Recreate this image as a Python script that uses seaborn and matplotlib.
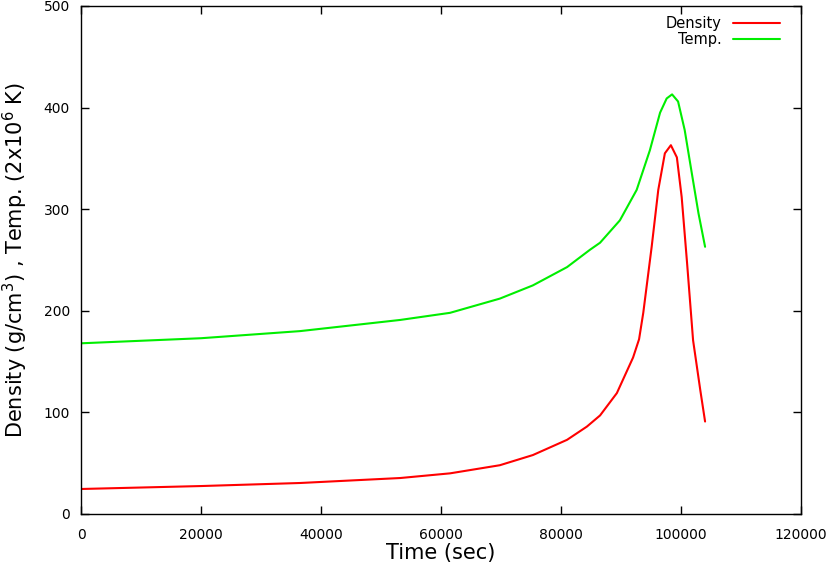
import matplotlib
matplotlib.use("Agg")
import matplotlib.pyplot as plt
import seaborn as sns
import pandas as pd

# values
dens_time = [0, 20000, 36500, 53200, 61500, 69800, 75300, 81000, 84300, 86500,
             89300, 92000, 93000, 93700, 95100, 96200, 97300, 98300, 99300, 100100,
             101000, 102000, 103200, 104000]
density = [24.6, 27.5, 30.5, 35.4, 40, 48, 58, 73, 86, 97,
           119, 154, 172, 198, 263, 319, 355, 363, 351, 312,
           247, 171, 122, 91]

temp_time = [0, 20000, 36500, 53200, 61500, 69800, 75300, 81000, 84800, 86500,
             89800, 92600, 94800, 96500, 97600, 98500, 99500, 100600, 101800,
             102900, 104000]
temp = [168, 173, 180, 191, 198, 212, 225, 243, 260, 267,
        289, 319, 358, 395, 409, 413, 406, 378, 335,
        296, 263]

x_ticks = [0, 20000, 40000, 60000, 80000, 100000, 120000]
y_ticks = [0, 100, 200, 300, 400, 500]

sns.set_style("ticks")
plt.rcParams['font.family'] = ['DejaVu Sans']
plt.rcParams['text.color'] = 'black'
plt.rcParams['axes.labelcolor'] = 'black'

df = pd.concat([
    pd.DataFrame({"t": dens_time, "v": density, "series": "Density"}),
    pd.DataFrame({"t": temp_time, "v": temp, "series": "Temp."}),
])

fig = plt.figure(figsize=(8.31, 5.66), dpi=100)
ax = fig.add_axes([0.0975, 0.0919, 0.8665, 0.8975])

sns.lineplot(data=df, x="t", y="v", hue="series",
             palette={"Density": "#ff0000", "Temp.": "#00ee00"},
             linewidth=1.5, ax=ax)

ax.set_xlim(0, 120000)
ax.set_ylim(0, 500)
ax.set_xticks(x_ticks)
ax.set_yticks(y_ticks)
ax.tick_params(direction="in", top=True, right=True, length=6, width=1,
               labelsize=10, colors="black")
ax.tick_params(axis="x", pad=10)
ax.tick_params(axis="y", pad=8)
for s in ax.spines.values():
    s.set_linewidth(1)
    s.set_color("black")

ax.set_xlabel("Time (sec)", fontsize=15, labelpad=1)
ax.set_ylabel("Density (g/cm$^3$) , Temp. (2x10$^6$ K)", fontsize=15, labelpad=10)

leg = ax.legend(loc="upper right", frameon=False, markerfirst=False,
                fontsize=10.5, handlelength=3.2, borderaxespad=0.3,
                labelspacing=0.05, handletextpad=0.8,
                bbox_to_anchor=(0.985, 1.0))
for t in leg.get_texts():
    t.set_color("black")

fig.savefig("out.png", dpi=100)
